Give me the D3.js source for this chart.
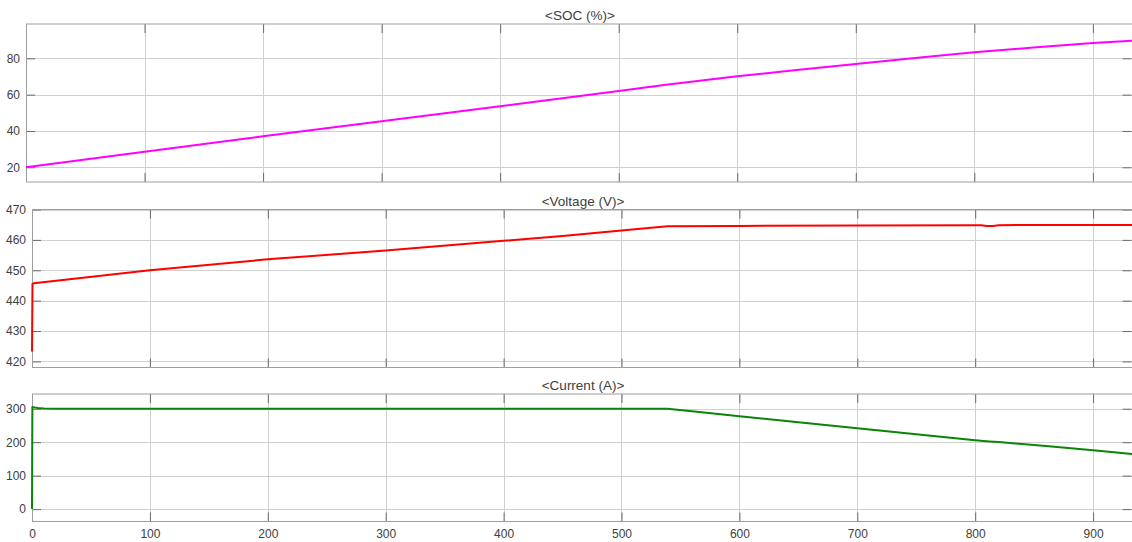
<!DOCTYPE html>
<html>
<head>
<meta charset="utf-8">
<script src="https://cdn.jsdelivr.net/npm/d3@7/dist/d3.min.js"></script>
<style>
  html, body { margin: 0; padding: 0; background: #ffffff; }
  svg { display: block; }
  text { font-family: "Liberation Sans", Arial, Helvetica, sans-serif; }
</style>
</head>
<body>
<svg id="chart" width="1132" height="542"></svg>
<script>
// Battery charging run: state of charge, terminal voltage and current vs time (s)
const timeMax = 933;
const xTicks = [0, 100, 200, 300, 400, 500, 600, 700, 800, 900];

const socTime   = [0, 100, 200, 300, 400, 500, 540, 600, 650, 700, 750, 800, 850, 900, 933];
const socValues = [20, 28.6, 37.1, 45.3, 53.6, 62.0, 65.4, 70.1, 73.6, 76.9, 80.2, 83.3, 86.0, 88.4, 89.7];
const socTicks  = [20, 40, 60, 80];

const voltTime   = [0, 0.4, 1.5, 100, 200, 300, 400, 450, 500, 539, 600, 700, 800, 805, 810, 815, 820, 900, 933];
const voltValues = [423.3, 445.5, 445.7, 450.0, 453.6, 456.5, 459.7, 461.3, 463.1, 464.5, 464.6, 464.7, 464.85, 464.85, 464.55, 464.6, 464.85, 464.9, 464.9];
const voltTicks  = [420, 430, 440, 450, 460, 470];

const currTime   = [0, 0.3, 2, 5, 10, 20, 100, 200, 300, 400, 500, 539, 570, 600, 650, 700, 750, 800, 812, 820, 860, 900, 933];
const currValues = [0, 305, 304, 302, 300.5, 300, 300, 300, 300, 300, 300, 300, 288.5, 277.6, 259.6, 242.0, 223.5, 205.7, 202.3, 200.6, 188.5, 176.0, 164.8];
const currTicks  = [0, 100, 200, 300];

const panels = [
  { title: "<SOC (%)>",     t: socTime,  v: socValues,  ticks: socTicks,  domain: [11.9, 98.9],
    color: "#ff00ff", left: 26, top: 24,    bottom: 182,   xLabels: false },
  { title: "<Voltage (V)>", t: voltTime, v: voltValues, ticks: voltTicks, domain: [418, 470],
    color: "#ff0000", left: 32, top: 209.5, bottom: 367.5, xLabels: false },
  { title: "<Current (A)>", t: currTime, v: currValues, ticks: currTicks, domain: [-37, 344],
    color: "#0a850a", left: 32, top: 394,   bottom: 521.5, xLabels: true }
];

const svg = d3.select("#chart");
const right = 1132;
const tickLen = 9;
const gridColor = "#d0d0d0";
const tickColor = "#6a6a6a";
const textColor = "#404040";

panels.forEach(p => {
  const x = d3.scaleLinear().domain([0, timeMax]).range([p.left, right]);
  const y = d3.scaleLinear().domain(p.domain).range([p.bottom, p.top]);
  const g = svg.append("g");

  // grid
  g.append("g").selectAll("line").data(xTicks.filter(d => d > 0)).join("line")
    .attr("x1", d => Math.round(x(d)) + 0.5).attr("x2", d => Math.round(x(d)) + 0.5)
    .attr("y1", p.top).attr("y2", p.bottom)
    .attr("stroke", gridColor).attr("stroke-width", 1);
  g.append("g").selectAll("line").data(p.ticks).join("line")
    .attr("x1", p.left).attr("x2", right)
    .attr("y1", d => Math.round(y(d)) + 0.5).attr("y2", d => Math.round(y(d)) + 0.5)
    .attr("stroke", gridColor).attr("stroke-width", 1);

  // axes with inward ticks on all four sides
  const styleAxis = sel => {
    sel.select(".domain").remove();
    sel.selectAll(".tick line").attr("stroke", tickColor).attr("stroke-width", 1);
    sel.selectAll(".tick text").attr("fill", textColor).attr("font-size", 12);
  };
  g.append("g").attr("transform", `translate(${p.left},0)`)
    .call(d3.axisLeft(y).tickValues(p.ticks).tickSize(-tickLen).tickPadding(6))
    .call(styleAxis);
  g.append("g").attr("transform", `translate(${right - 0.5},0)`)
    .call(d3.axisRight(y).tickValues(p.ticks).tickSize(-tickLen).tickFormat(""))
    .call(styleAxis);
  g.append("g").attr("transform", `translate(0,${p.top})`)
    .call(d3.axisTop(x).tickValues(xTicks).tickSize(-tickLen).tickFormat(""))
    .call(styleAxis);
  g.append("g").attr("transform", `translate(0,${p.bottom})`)
    .call(d3.axisBottom(x).tickValues(xTicks).tickSize(-tickLen).tickPadding(8)
      .tickFormat(p.xLabels ? d3.format("d") : ""))
    .call(styleAxis);

  // frame
  g.append("rect")
    .attr("x", p.left + 0.5).attr("y", p.top)
    .attr("width", right - p.left).attr("height", p.bottom - p.top)
    .attr("fill", "none").attr("stroke", "#9e9e9e").attr("stroke-width", 1);

  // title
  g.append("text")
    .attr("x", (p.left + right) / 2 + 1).attr("y", p.top - 4)
    .attr("text-anchor", "middle").attr("font-size", 13.5)
    .attr("fill", textColor).text(p.title);

  // signal
  const line = d3.line()
    .x((d, i) => x(p.t[i]))
    .y(d => y(d));
  g.append("path")
    .datum(p.v)
    .attr("d", line)
    .attr("fill", "none")
    .attr("stroke", p.color)
    .attr("stroke-width", 2)
    .attr("stroke-linejoin", "round");
});
</script>
</body>
</html>
